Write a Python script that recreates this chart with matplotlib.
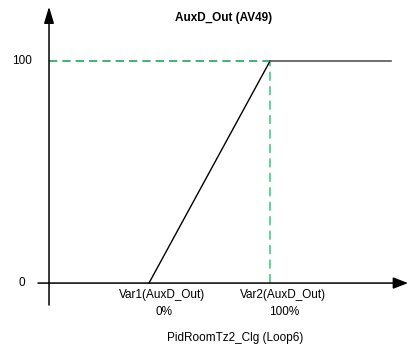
import matplotlib
matplotlib.use("Agg")
import matplotlib.pyplot as plt

plt.rcParams['font.family'] = ['Liberation Sans', 'DejaVu Sans']

# Control curve: output vs. loop value (percent)
loop_pct = [0, 100, 200]
output = [0, 100, 100]
y_ticks = [0, 100]
y_tick_labels = ["0", "100"]
x_marks = [0, 100]
x_mark_names = ["Var1(AuxD_Out)", "Var2(AuxD_Out)"]
x_mark_pcts = ["0%", "100%"]
title = "AuxD_Out (AV49)"
x_title = "PidRoomTz2_Clg (Loop6)"

fig = plt.figure(figsize=(4.08, 3.49), dpi=100)
ax = fig.add_axes([0, 0, 1, 1])
ax.set_xlim(-123.1, 214.0)
ax.set_ylim(-29.7, 127.5)
ax.axis('off')

x_axis_pos = -82.6
fs = 8.5

# Axes with arrowheads
ax.annotate("", xy=(x_axis_pos, 124.5), xytext=(x_axis_pos, -9.9),
            arrowprops=dict(arrowstyle="-|>,head_length=1.0,head_width=0.3",
                            color="black", lw=1.1, shrinkA=0, shrinkB=0))
ax.annotate("", xy=(214.0, 0), xytext=(-91.7, 0),
            arrowprops=dict(arrowstyle="-|>,head_length=0.9,head_width=0.35",
                            color="black", lw=1.1, shrinkA=0, shrinkB=0))

# Guide lines
ax.plot([x_axis_pos, x_marks[1]], [y_ticks[1], y_ticks[1]], color="#1ea85a",
        lw=1.2, dashes=(5, 3), zorder=2)
ax.plot([x_marks[1], x_marks[1]], [y_ticks[0], y_ticks[1]], color="#55d092",
        lw=1.3, dashes=(5, 3), zorder=2)

# Curve
ax.plot(loop_pct[:2], output[:2], color="black", lw=1.0, zorder=3)
ax.plot(loop_pct[1:], output[1:], color="#555555", lw=1.2, zorder=3)

# Y tick labels
for v, lab in zip(y_ticks, y_tick_labels):
    ax.text(-105, v, lab, ha="center", va="center", fontsize=fs)

# X mark labels
for v, name, pct in zip(x_marks, x_mark_names, x_mark_pcts):
    ax.text(v + 11, -5.4, name, ha="center", va="center", fontsize=fs)
    ax.text(v + 12, -13.1, pct, ha="center", va="center", fontsize=fs)

ax.text(62, 119.4, title, ha="center", va="center", fontsize=fs,
        fontweight="bold")
ax.text(71, -24.8, x_title, ha="center", va="center", fontsize=fs)

fig.savefig("out.png", dpi=100)
